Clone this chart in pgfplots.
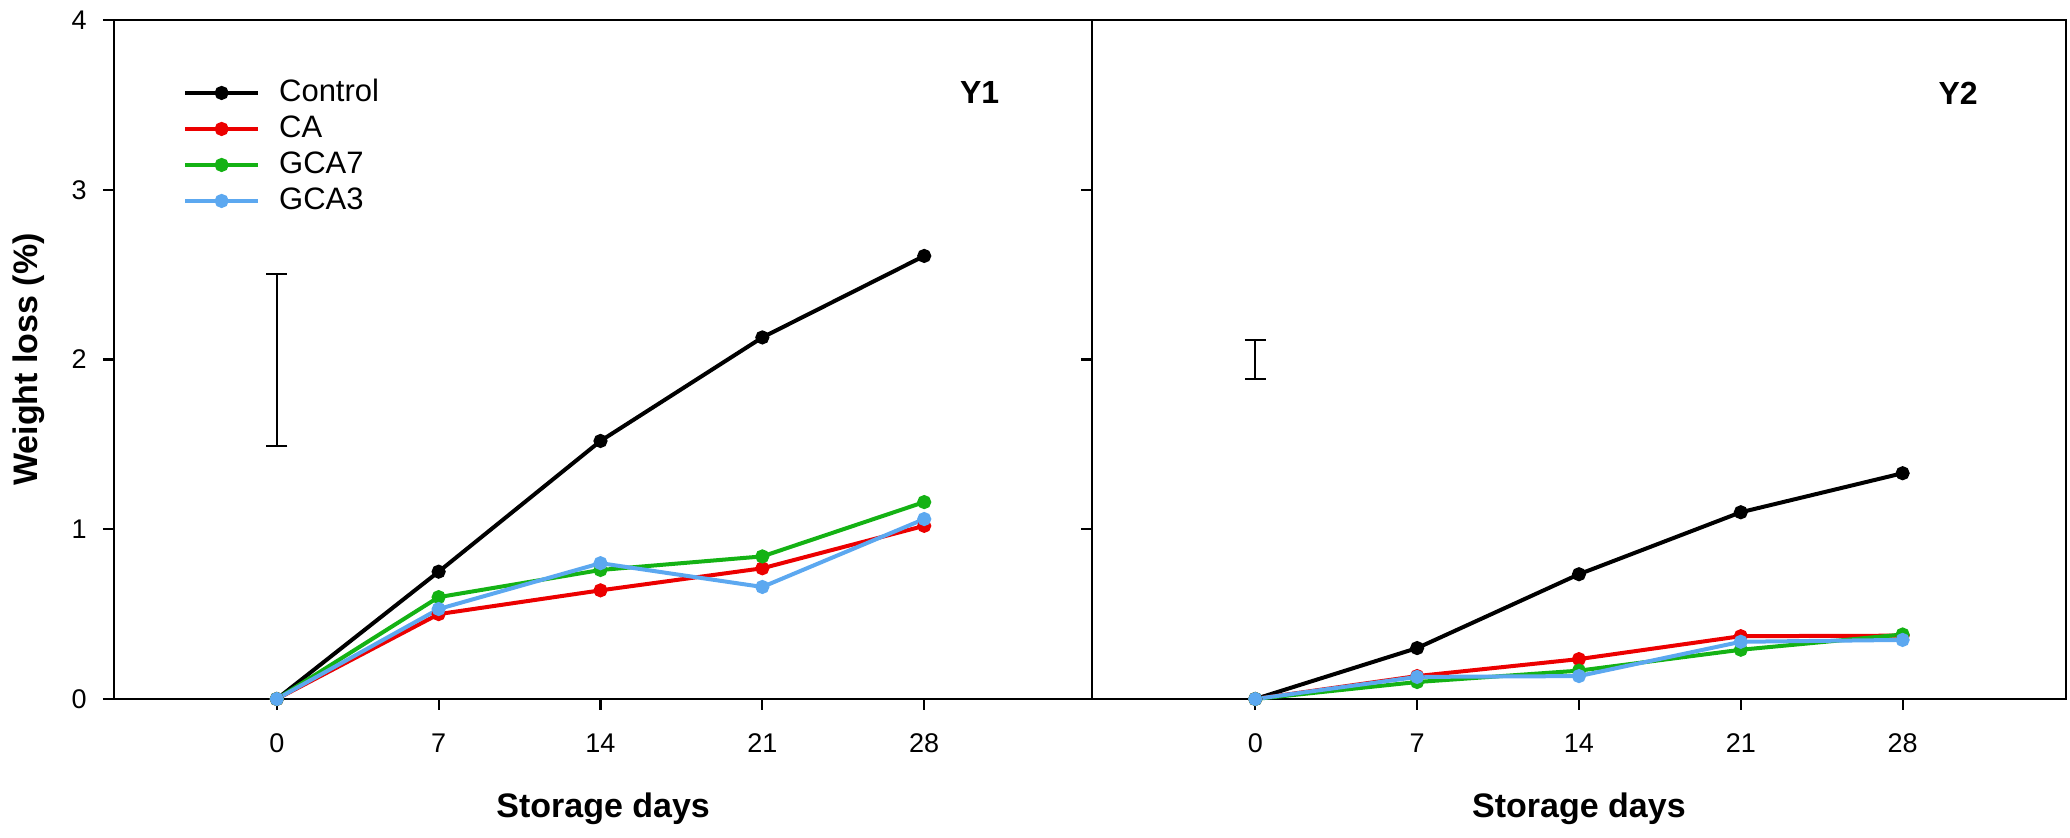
\documentclass[border=0pt]{standalone}
\usepackage{fontspec}
\setmainfont{Liberation Sans}
\usepackage{pgfplots}
\pgfplotsset{compat=1.18}
\definecolor{cred}{RGB}{236,0,0}
\definecolor{cgreen}{RGB}{20,178,20}
\definecolor{cblue}{RGB}{92,168,240}
\pgfplotsset{
  panel/.style={
    scale only axis, height=339.5pt,
    ymin=0, ymax=4, ytick={0,1,2,3,4},
    xtick={0,7,14,21,28},
    axis line style={line width=1.1pt},
    tick style={line width=1.1pt, black},
    major tick length=5.5pt,
    tick align=outside,
    xtick pos=left, ytick pos=left,
    ticklabel style={font=\fontsize{13.5}{16}\selectfont, inner sep=0pt},
    xticklabel style={anchor=base, yshift=-21.5pt},
    yticklabel style={anchor=east, xshift=-8pt},
    /pgf/number format/assume math mode=true,
    clip=false,
  },
  ser/.style={#1, line width=2pt, mark=*, mark size=2.5pt, mark options={solid, fill=#1, draw=#1}},
  ebar/.style={forget plot, draw=none, mark=none,
    error bars/.cd, y dir=both, y explicit,
    error bar style={draw=black, line width=1.1pt},
    error mark options={draw=black, rotate=90, mark size=5.25pt, line width=1.1pt}},
}
\begin{document}
\begin{tikzpicture}
\useasboundingbox (0,0) rectangle (1035pt,419pt);
% ---------------- Y1 ----------------
\begin{axis}[panel, at={(57pt,69.5pt)}, anchor=south west,
  width=489.15pt, xmin=-7.04, xmax=35.27,
  xlabel={Storage days},
  xlabel style={at={([yshift=-59.5pt]axis description cs:0.5,0)}, anchor=base, font=\bfseries\fontsize{17}{20}\selectfont},
  ylabel={Weight loss (\%)},
  ylabel style={at={([xshift=-42.5pt]axis description cs:0,0.5)}, anchor=center, font=\bfseries\fontsize{17}{20}\selectfont},
  legend cell align=left,
  legend style={at={(axis cs:-4.05,3.655)}, anchor=north west, draw=none, fill=none,
    inner sep=0pt, outer sep=0pt, column sep=9.5pt, row sep=3.6pt,
    font=\fontsize{15.5}{18}\selectfont,
    nodes={inner sep=0pt, text height=11.4pt, text depth=3pt}},
  legend image code/.code={\draw[mark repeat=2,mark phase=2,#1] plot coordinates {(0pt,0pt) (18.25pt,0pt) (36.5pt,0pt)};},
]
\addplot[ser=black] coordinates {(0,0) (7,0.75) (14,1.52) (21,2.13) (28,2.61)};
\addlegendentry{Control}
\addplot[ser=cred] coordinates {(0,0) (7,0.50) (14,0.64) (21,0.77) (28,1.02)};
\addlegendentry{CA}
\addplot[ser=cgreen] coordinates {(0,0) (7,0.60) (14,0.76) (21,0.84) (28,1.16)};
\addlegendentry{GCA7}
\addplot[ser=cblue] coordinates {(0,0) (7,0.53) (14,0.80) (21,0.66) (28,1.06)};
\addlegendentry{GCA3}
\addplot[ebar] coordinates {(0,1.9985) +- (0,0.5065)};
\node[font=\bfseries\fontsize{16}{19}\selectfont] at (axis cs:30.4,3.57) {Y1};
\end{axis}
% ---------------- Y2 ----------------
\begin{axis}[panel, at={(546.15pt,69.5pt)}, anchor=south west,
  width=486.65pt, xmin=-7.05, xmax=35.05,
  yticklabels={},
  xlabel={Storage days},
  xlabel style={at={([yshift=-59.5pt]axis description cs:0.5,0)}, anchor=base, font=\bfseries\fontsize{17}{20}\selectfont},
]
\addplot[ser=black] coordinates {(0,0) (7,0.30) (14,0.735) (21,1.10) (28,1.33)};
\addplot[ser=cred] coordinates {(0,0) (7,0.135) (14,0.235) (21,0.37) (28,0.373)};
\addplot[ser=cgreen] coordinates {(0,0) (7,0.10) (14,0.167) (21,0.29) (28,0.38)};
\addplot[ser=cblue] coordinates {(0,0) (7,0.13) (14,0.135) (21,0.337) (28,0.348)};
\addplot[ebar] coordinates {(0,1.999) +- (0,0.116)};
\node[font=\bfseries\fontsize{16}{19}\selectfont] at (axis cs:30.4,3.57) {Y2};
\end{axis}
\end{tikzpicture}
\end{document}
